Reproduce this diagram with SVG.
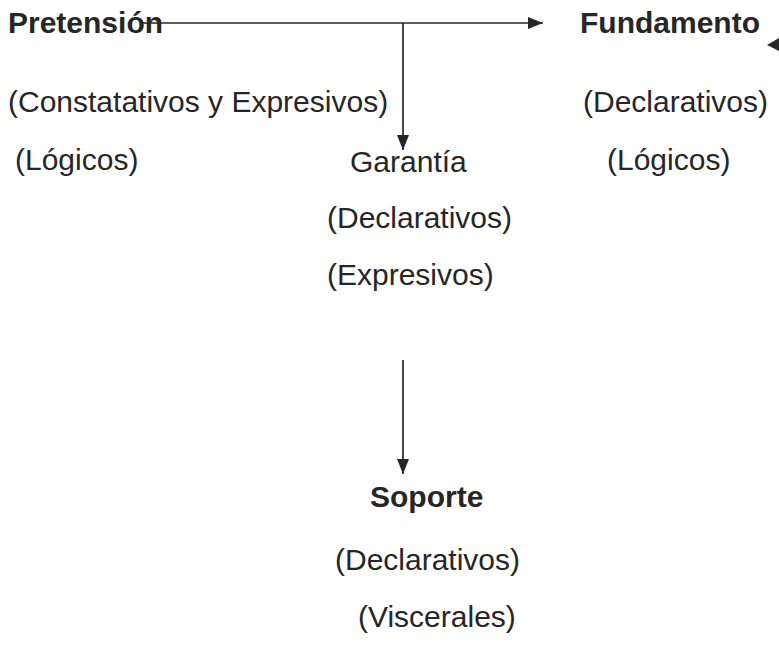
<svg xmlns="http://www.w3.org/2000/svg" width="779" height="660" viewBox="0 0 779 660">
<style>
text{font-family:"Liberation Sans",Arial,sans-serif;font-size:30px;fill:#262626}
.b{font-weight:bold}
.ln{stroke:#262626;stroke-width:1.7;fill:none}
</style>
<defs>
<marker id="ah" viewBox="0 0 15 12" refX="15" refY="6" markerWidth="15" markerHeight="12" markerUnits="userSpaceOnUse" orient="auto"><path d="M0,0 L15,6 L0,12 z" fill="#262626"/></marker>
</defs>
<rect width="779" height="660" fill="#fff"/>
<g id="connectors">
<line class="ln" x1="140" y1="23" x2="543" y2="23" marker-end="url(#ah)"/>
<line class="ln" x1="403" y1="23" x2="403" y2="150" marker-end="url(#ah)"/>
<line class="ln" x1="403" y1="360" x2="403" y2="474" marker-end="url(#ah)"/>
<polygon points="767,45 779,38 779,51" fill="#262626"/>
</g>
<g id="pretension"><text class="b" x="8" y="33">Pretensión</text><text x="8" y="112">(Constatativos y Expresivos)</text><text x="15" y="170">(Lógicos)</text></g>
<g id="fundamento"><text class="b" x="580" y="33">Fundamento</text><text x="583" y="112">(Declarativos)</text><text x="607" y="170">(Lógicos)</text></g>
<g id="garantia"><text x="350" y="172">Garantía</text><text x="327" y="228">(Declarativos)</text><text x="327" y="285">(Expresivos)</text></g>
<g id="soporte"><text class="b" x="370" y="507">Soporte</text><text x="335" y="570">(Declarativos)</text><text x="358" y="627">(Viscerales)</text></g>
</svg>
